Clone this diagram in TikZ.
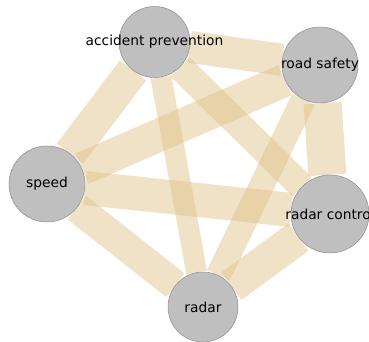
\documentclass[tikz,border=0pt]{standalone}
\usepackage{fontspec}
\setmainfont{DejaVu Sans}
\usetikzlibrary{backgrounds}
\definecolor{linkbeige}{RGB}{222,190,130}

\begin{document}
\begin{tikzpicture}[
            x=1pt, y=1pt, font=\fontsize{13.8}{16}\selectfont,
            topic/.style={circle, draw=black!45, line width=0.5, fill=black!25, inner sep=0},
            link/.style={draw=linkbeige, opacity=0.45}
        ]
            \useasboundingbox (0,0) rectangle (369,342);

            % topics
            \node[topic, minimum size=71, label=center:accident prevention] (prev) at (154.5,300) {};
            \node[topic, minimum size=76, label=center:road safety] (safety) at (320,277) {};
            \node[topic, minimum size=76, label=center:speed] (speed) at (47,158) {};
            \node[topic, minimum size=78, label=center:radar control] (control) at (330,128) {};
            \node[topic, minimum size=70, label=center:radar] (radar) at (203,35) {};

            % links
            \begin{scope}[on background layer]
                \draw[link, line width=32] (prev) -- (safety);
                \draw[link, line width=33] (prev) -- (speed);
                \draw[link, line width=21] (prev) -- (radar);
                \draw[link, line width=27] (prev) -- (control);
                \draw[link, line width=33] (safety) -- (speed);
                \draw[link, line width=38] (safety) -- (control);
                \draw[link, line width=25] (safety) -- (radar);
                \draw[link, line width=34] (speed) -- (control);
                \draw[link, line width=30] (speed) -- (radar);
                \draw[link, line width=34] (control) -- (radar);
            \end{scope}

        \end{tikzpicture}
\end{document}
